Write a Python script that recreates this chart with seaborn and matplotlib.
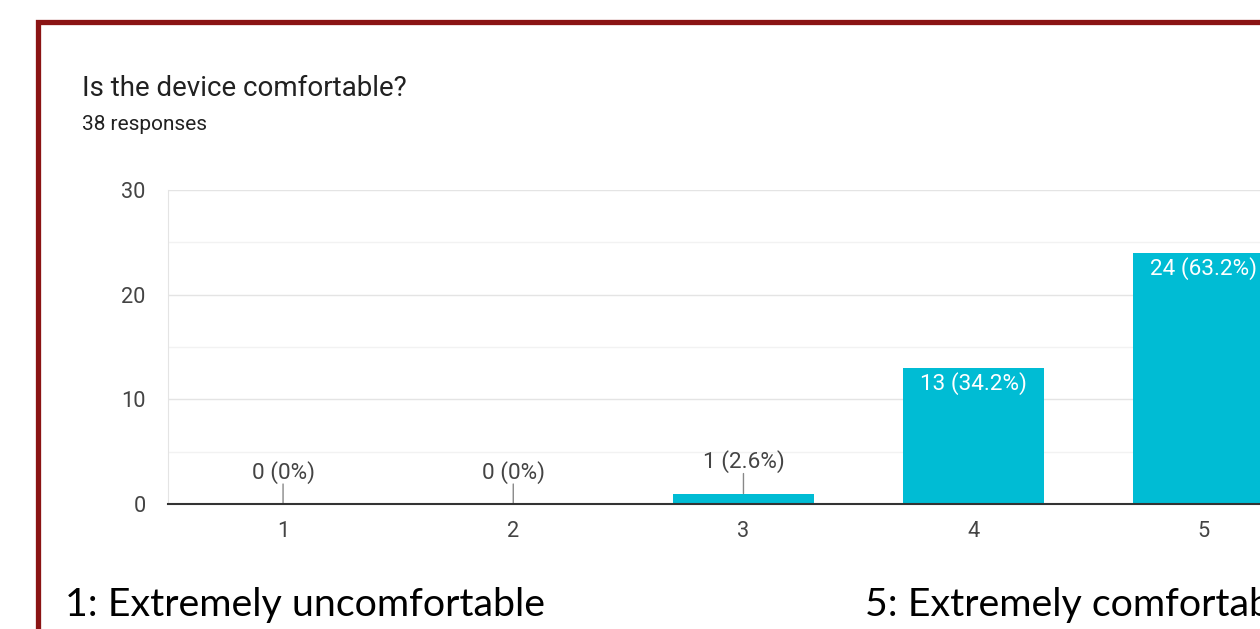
import matplotlib
matplotlib.use("Agg")
import matplotlib.pyplot as plt
import seaborn as sns
import pandas as pd
from matplotlib.patches import Rectangle

categories = ["1", "2", "3", "4", "5"]
counts = [0, 0, 1, 13, 24]
total_responses = 38
title = "Is the device comfortable?"
subtitle = f"{total_responses} responses"
scale_low = "1: Extremely uncomfortable"
scale_high = "5: Extremely comfortable"

bar_color = "#00bcd4"
text_color = "#444444"

sns.set_style("white")
plt.rcParams["font.family"] = ["Roboto", "DejaVu Sans"]

fig = plt.figure(figsize=(12.6, 6.29), dpi=100)
# axes runs past the right edge, like the cropped screenshot
ax = fig.add_axes([0.1333, 0.1987, 0.9135, 0.4992])

df = pd.DataFrame({"rating": categories, "count": counts})
sns.barplot(data=df, x="rating", y="count", color=bar_color, saturation=1,
            width=0.614, linewidth=0, ax=ax)

ax.set_xlim(-0.5, len(categories) - 0.5)
ax.set_ylim(0, 30)
ax.set_yticks([0, 10, 20, 30])
ax.set_yticks([5, 15, 25], minor=True)
ax.yaxis.grid(True, which="major", color="#e4e4e4", lw=1)
ax.yaxis.grid(True, which="minor", color="#f2f2f2", lw=1)
ax.set_axisbelow(True)
ax.tick_params(axis="both", which="both", length=0, labelsize=15.7, labelcolor=text_color)
ax.tick_params(axis="y", pad=16)
ax.tick_params(axis="x", pad=12)
ax.set_xlabel("")
ax.set_ylabel("")
for s in ["top", "right"]:
    ax.spines[s].set_visible(False)
ax.spines["left"].set_color("#e4e4e4")
ax.spines["bottom"].set_color("#333333")
ax.spines["bottom"].set_linewidth(1.5)
ax.spines["bottom"].set_zorder(5)

for i, c in enumerate(counts):
    pct = round(c / total_responses * 100, 1)
    pct_txt = f"{pct:g}"
    label = f"{c} ({pct_txt}%)"
    if c >= 5:
        ax.annotate(label, (i, c), xytext=(0, -16), textcoords="offset pixels",
                    ha="center", va="center", color="white", fontsize=16.2)
    else:
        ax.annotate("", xy=(i, c), xytext=(0, 20), textcoords="offset pixels",
                    arrowprops=dict(arrowstyle="-", color="#888888", lw=1,
                                    shrinkA=0, shrinkB=0))
        ax.annotate(label, (i, c), xytext=(0, 32), textcoords="offset pixels",
                    ha="center", va="center", color=text_color, fontsize=16.2)

fig.text(82 / 1260, 1 - 88 / 629, title, fontsize=20, color="#212121",
         ha="left", va="center")
fig.text(82 / 1260, 1 - 124 / 629, subtitle, fontsize=15, color="#212121",
         ha="left", va="center")

fig.text(65 / 1260, 1 - 605 / 629, scale_low, fontsize=28.4, color="black",
         ha="left", va="center", family=["Lato", "DejaVu Sans"])
fig.text(865 / 1260, 1 - 605 / 629, scale_high, fontsize=28.4, color="black",
         ha="left", va="center", family=["Lato", "DejaVu Sans"])

# dark red frame around the slide content
fig.patches.append(Rectangle((37.5 / 1260, -0.2), 1.2, 0.2 + 1 - 22.5 / 629,
                             transform=fig.transFigure, fill=False,
                             edgecolor="#8b1414", lw=3.8, zorder=10))

fig.savefig("out.png", dpi=100)
